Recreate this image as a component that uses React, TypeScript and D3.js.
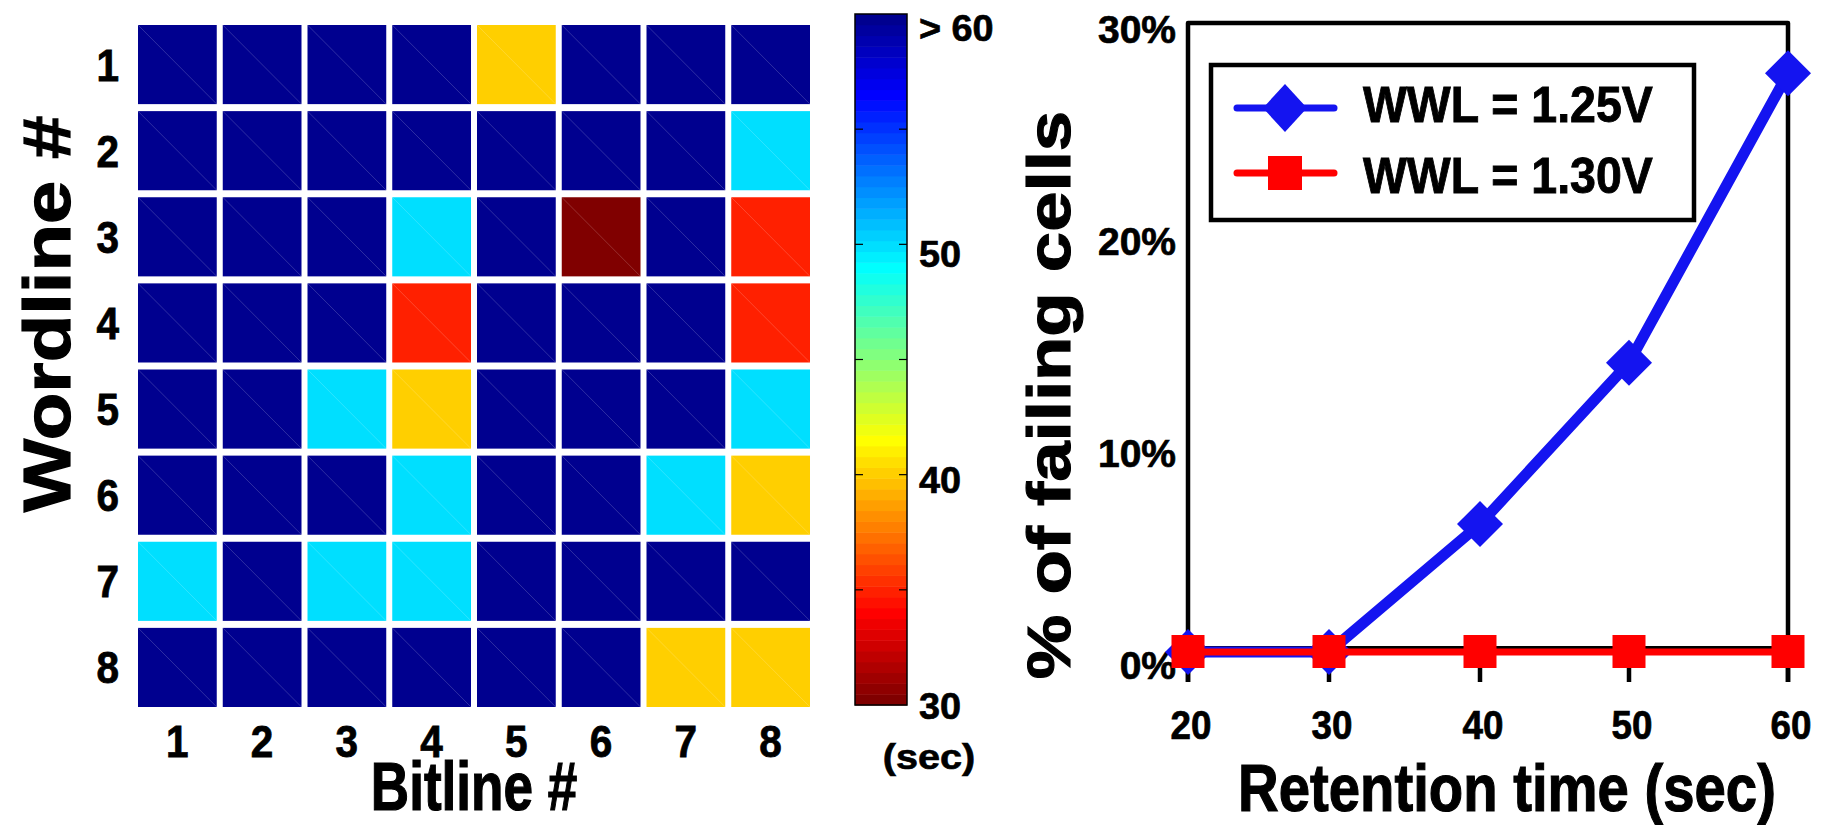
import React from 'react';
import * as d3 from 'd3';

// heatmap data: retention time (sec) per cell, 60 means "> 60"
const wordlines = [1, 2, 3, 4, 5, 6, 7, 8];
const bitlines = [1, 2, 3, 4, 5, 6, 7, 8];
const row1 = [60, 60, 60, 60, 40, 60, 60, 60];
const row2 = [60, 60, 60, 60, 60, 60, 60, 50];
const row3 = [60, 60, 60, 50, 60, 30, 60, 35];
const row4 = [60, 60, 60, 35, 60, 60, 60, 35];
const row5 = [60, 60, 50, 40, 60, 60, 60, 50];
const row6 = [60, 60, 60, 50, 60, 60, 50, 40];
const row7 = [50, 60, 50, 50, 60, 60, 60, 60];
const row8 = [60, 60, 60, 60, 60, 60, 40, 40];
const retention = [row1, row2, row3, row4, row5, row6, row7, row8];

const cbTicks = [35, 40, 45, 50, 55];
const cbLabelValues = [60, 50, 40, 30];
const cbLabelTexts = ['> 60', '50', '40', '30'];

// line chart data
const retentionTimes = [20, 30, 40, 50, 60];
const fail125 = [0, 0, 6.1, 13.8, 27.6];
const fail130 = [0, 0, 0, 0, 0];
const yTicks = [0, 10, 20, 30];
const seriesNames = ['WWL = 1.25V', 'WWL = 1.30V'];

const FONT = '"Liberation Sans", Arial, Helvetica, sans-serif';

// matlab jet(64)
function jet64(i: number): string {
  const n = 16;
  const u: number[] = [];
  for (let k = 1; k <= n; k++) u.push(k / n);
  for (let k = 1; k < n; k++) u.push(1);
  for (let k = n; k >= 1; k--) u.push(k / n);
  const comp = (off: number) => {
    const idx = i - off;
    if (idx < 1 || idx > u.length) return 0;
    return u[idx - 1];
  };
  const g = comp(8);
  const r = comp(24);
  const b = i <= 39 ? u[i + 8 - 1] : 0;
  return d3.rgb(Math.round(r * 255), Math.round(g * 255), Math.round(b * 255)).formatHex();
}

// flipped colormap: 30 -> dark red, 60 -> dark blue
function colorFor(v: number): string {
  let k = Math.floor(((v - 30) / 30) * 64) + 1;
  k = Math.max(1, Math.min(64, k));
  return jet64(65 - k);
}

function Label(props: {
  x: number; y: number; size: number; sx?: number; anchor?: string; rot?: number; children: React.ReactNode;
}) {
  const { x, y, size, sx = 1, anchor = 'middle', rot = 0, children } = props;
  return (
    <text
      transform={`translate(${x},${y}) rotate(${rot}) scale(${sx},1)`}
      fontFamily={FONT}
      fontWeight="bold"
      fontSize={size}
      textAnchor={anchor}
      fill="#000"
      stroke="#000"
      strokeWidth={size * 0.018}
    >
      {children}
    </text>
  );
}

export default function App() {
  // heatmap scales
  const xBand = d3.scaleBand<number>().domain(bitlines).range([135, 813]);
  const yBand = d3.scaleBand<number>().domain(wordlines).range([21.5, 710.5]);
  const bw = xBand.step();
  const bh = yBand.step();

  // colorbar
  const cb = d3.scaleLinear().domain([30, 60]).range([705, 14]);
  const cbLab = d3.scaleLinear().domain([30, 60]).range([706, 28]);
  const cbLeft = 855;
  const cbW = 52;
  const levels = d3.range(64);

  // line chart scales
  const x = d3.scaleLinear().domain(retentionTimes).range([1188, 1329, 1480, 1629, 1788]);
  const y = d3.scaleLinear().domain([0, 30]).range([652, 23]);
  const yLab = d3.scaleLinear().domain([0, 30]).range([665, 29]);
  const line = d3.line<number>().x((d, i) => x(retentionTimes[i])).y((d) => y(d));

  const blue = '#1414f0';
  const red = '#ff0000';
  const diamond = (cx: number, cy: number, rx: number, ry: number) =>
    `M${cx},${cy - ry}L${cx + rx},${cy}L${cx},${cy + ry}L${cx - rx},${cy}Z`;

  const frameBottom = 682;
  const zeroLine = y(0) - 4;

  return (
    <svg
      width={1824}
      height={825}
      style={{ position: 'absolute', left: 0, top: 0, background: '#fff' }}
    >
      {/* heatmap */}
      <g>
        {retention.map((row, ri) =>
          row.map((v, ci) => {
            const x0 = xBand(bitlines[ci])! + 3;
            const y0 = yBand(wordlines[ri])! + 3.5;
            const w = bw - 6;
            const h = bh - 7;
            return (
              <g key={`${ri}-${ci}`}>
                <rect x={x0} y={y0} width={w} height={h} fill={colorFor(v)} />
                <line x1={x0} y1={y0} x2={x0 + w} y2={y0 + h} stroke="#fff" strokeOpacity={0.18} strokeWidth={1} />
              </g>
            );
          })
        )}
        {wordlines.map((r) => (
          <Label key={r} x={119} y={yBand(r)! + bh / 2 + 16} size={45} sx={0.9} anchor="end">
            {r}
          </Label>
        ))}
        {bitlines.map((c) => (
          <Label key={c} x={xBand(c)! + bw / 2} y={757} size={45} sx={0.9}>
            {c}
          </Label>
        ))}
        <Label x={474} y={810} size={68} sx={0.78}>Bitline #</Label>
        <Label x={70} y={314} size={66} sx={1.18} rot={-90}>Wordline #</Label>
      </g>

      {/* colorbar */}
      <g>
        {levels.map((k) => {
          const v0 = 30 + (k * 30) / 64;
          const v1 = 30 + ((k + 1) * 30) / 64;
          return (
            <rect
              key={k}
              x={cbLeft}
              y={cb(v1)}
              width={cbW}
              height={cb(v0) - cb(v1) + 0.5}
              fill={colorFor((v0 + v1) / 2)}
            />
          );
        })}
        <rect x={cbLeft} y={cb(60)} width={cbW} height={cb(30) - cb(60)} fill="none" stroke="#000" strokeWidth={1.5} />
        {cbTicks.map((t) => (
          <g key={t}>
            <line x1={cbLeft} x2={cbLeft + 8} y1={cb(t)} y2={cb(t)} stroke="#000" strokeWidth={1.2} />
            <line x1={cbLeft + cbW - 8} x2={cbLeft + cbW} y1={cb(t)} y2={cb(t)} stroke="#000" strokeWidth={1.2} />
          </g>
        ))}
        {cbLabelValues.map((v, i) => (
          <Label key={v} x={cbLeft + 64} y={cbLab(v) + 13} size={36} sx={1.05} anchor="start">
            {cbLabelTexts[i]}
          </Label>
        ))}
        <Label x={929} y={769} size={36} sx={1.1}>(sec)</Label>
      </g>

      {/* line chart */}
      <g>
        <path
          d={`M${x(20)},${frameBottom}L${x(20)},${y(30)}L${x(60)},${y(30)}L${x(60)},${frameBottom}`}
          fill="none"
          stroke="#000"
          strokeWidth={4.5}
          strokeLinejoin="round"
        />
        <line x1={x(20)} x2={x(60)} y1={zeroLine} y2={zeroLine} stroke="#000" strokeWidth={4} />
        {retentionTimes.map((t) => (
          <line key={t} x1={x(t)} x2={x(t)} y1={zeroLine} y2={frameBottom} stroke="#000" strokeWidth={4.5} />
        ))}
        {yTicks.map((t) => (
          <Label key={t} x={1176} y={yLab(t) + 14} size={39} anchor="end">
            {`${t}%`}
          </Label>
        ))}
        {retentionTimes.map((t) => (
          <Label key={t} x={x(t) + 3} y={739} size={40} sx={0.92}>
            {t}
          </Label>
        ))}
        <Label x={1507} y={811} size={67} sx={0.84}>Retention time (sec)</Label>
        <Label x={1070} y={395} size={62} sx={1.17} rot={-90}>% of failing cells</Label>

        {/* legend */}
        <rect x={1211} y={65} width={483} height={155} fill="#fff" stroke="#000" strokeWidth={4.5} />
        <line x1={1237} x2={1334} y1={108} y2={108} stroke={blue} strokeWidth={7} strokeLinecap="round" />
        <path d={diamond(1285, 108, 22, 24)} fill={blue} />
        <Label x={1363} y={122} size={50} sx={0.93} anchor="start">{seriesNames[0]}</Label>
        <line x1={1237} x2={1334} y1={173} y2={173} stroke={red} strokeWidth={7} strokeLinecap="round" />
        <rect x={1285 - 17} y={173 - 17} width={34} height={34} fill={red} />
        <Label x={1363} y={193} size={50} sx={0.93} anchor="start">{seriesNames[1]}</Label>

        {/* series */}
        <path d={line(fail125)!} fill="none" stroke={blue} strokeWidth={11} strokeLinejoin="round" />
        {fail125.map((v, i) => (
          <path key={i} d={diamond(x(retentionTimes[i]), y(v), 23, 23)} fill={blue} />
        ))}
        <path d={line(fail130)!} fill="none" stroke={red} strokeWidth={7} />
        {fail130.map((v, i) => (
          <rect key={i} x={x(retentionTimes[i]) - 16.5} y={y(v) - 17} width={33} height={33} fill={red} />
        ))}
      </g>
    </svg>
  );
}
